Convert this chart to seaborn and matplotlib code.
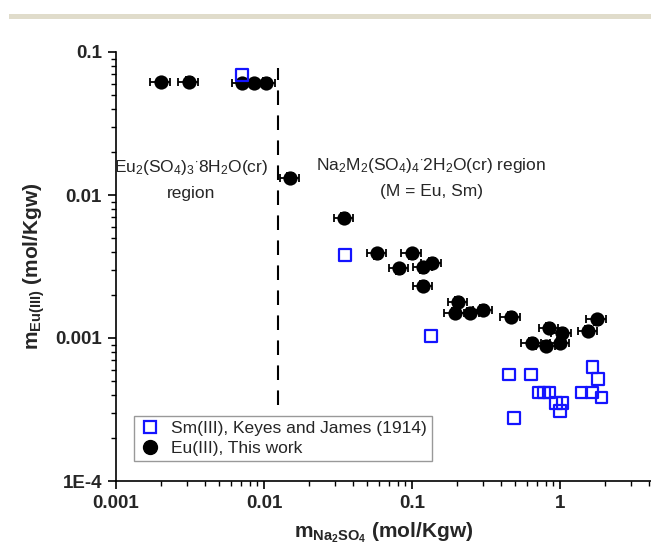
import numpy as np
import pandas as pd
import matplotlib
matplotlib.use("Agg")
import matplotlib.pyplot as plt
import seaborn as sns
from matplotlib.lines import Line2D
from matplotlib.patches import Rectangle

# ---- data ----
eu_x = [0.0020, 0.0031, 0.0071, 0.0085, 0.0103, 0.0151, 0.0347, 0.058, 0.0995,
        0.082, 0.119, 0.136, 0.119, 0.206, 0.195, 0.246, 0.303, 0.464,
        0.644, 0.804, 0.843, 1.00, 1.03, 1.55, 1.77]
eu_y = [0.0614, 0.0620, 0.0604, 0.0604, 0.0607, 0.0131, 0.0069, 0.0039, 0.0039,
        0.00307, 0.00312, 0.00336, 0.00231, 0.00179, 0.00149, 0.00150, 0.00157, 0.00141,
        0.000927, 0.00088, 0.00117, 0.000927, 0.00108, 0.00112, 0.00135]
sm_x = [0.0071, 0.0353, 0.134, 0.452, 0.634, 0.489, 0.72, 0.78, 0.84,
        0.94, 1.04, 1.00, 1.40, 1.64, 1.66, 1.81, 1.91]
sm_y = [0.069, 0.0038, 0.00103, 0.000557, 0.000557, 0.000277, 0.000417, 0.000417, 0.000417,
        0.00035, 0.00035, 0.00031, 0.000417, 0.000417, 0.000624, 0.000517, 0.000383]
eu_xerr_rel = 0.15
eu_yerr_rel = 0.08
boundary_x = 0.0125
boundary_y = [3.4e-4, 0.077]

legend_labels = ["Sm(III), Keyes and James (1914)", "Eu(III), This work"]
x_ticks = [0.001, 0.01, 0.1, 1]
x_ticklabels = ["0.001", "0.01", "0.1", "1"]
y_ticks = [1e-4, 1e-3, 1e-2, 1e-1]
y_ticklabels = ["1E-4", "0.001", "0.01", "0.1"]

sns.set_theme(style="ticks")
plt.rcParams['font.family'] = ['Liberation Sans', 'DejaVu Sans']
plt.rcParams['mathtext.fontset'] = 'custom'
plt.rcParams['mathtext.rm'] = 'Liberation Sans'
plt.rcParams['mathtext.it'] = 'Liberation Sans'
plt.rcParams['mathtext.bf'] = 'Liberation Sans:bold'

W, H = 651, 553
fig = plt.figure(figsize=(W / 100, H / 100), dpi=100)
left, right, bottom, top = 116, 651, 481, 52
ax = fig.add_axes([left / W, 1 - bottom / H, (right - left) / W, (bottom - top) / H])

# top beige band
fig.patches.append(Rectangle((9 / W, 1 - 18.5 / H), 1, 4.5 / H, transform=fig.transFigure,
                             facecolor='#e0dccb', edgecolor='none'))

eu = pd.DataFrame({"x": eu_x, "y": eu_y})
sm = pd.DataFrame({"x": sm_x, "y": sm_y})

ex = np.array(eu_x)
ey = np.array(eu_y)
ax.errorbar(ex, ey, xerr=ex * eu_xerr_rel, yerr=ey * eu_yerr_rel, fmt='none',
            ecolor='black', elinewidth=1.3, capsize=3, capthick=1.3, zorder=2)
sns.scatterplot(data=eu, x="x", y="y", ax=ax, marker='o', color='black',
                edgecolor='black', s=105, linewidth=0, zorder=3)
sns.scatterplot(data=sm, x="x", y="y", ax=ax, marker='s', facecolor='none',
                edgecolor='#1414ff', s=70, linewidth=1.6, zorder=4)

ax.plot([boundary_x, boundary_x], boundary_y, color='black', lw=1.5,
        dashes=(7, 5), zorder=1)

ax.set_xscale('log')
ax.set_yscale('log')
ax.set_xlim(0.001, 10 ** ((651 - 116) / 148 - 3))
ax.set_ylim(1e-4, 0.1)
ax.set_xticks(x_ticks)
ax.set_xticklabels(x_ticklabels, fontweight='bold', fontsize=13.5)
ax.set_yticks(y_ticks)
ax.set_yticklabels(y_ticklabels, fontweight='bold', fontsize=13.5)
ax.tick_params(which='major', length=6, width=1.2, direction='out', color='black', pad=4)
ax.tick_params(which='minor', length=3.5, width=1.0, direction='out', color='black')
for s in ['top', 'right']:
    ax.spines[s].set_visible(False)
for s in ['left', 'bottom']:
    ax.spines[s].set_color('black')
    ax.spines[s].set_linewidth(1.2)

ax.set_xlabel(r'$\mathbf{m_{Na_2SO_4}}$ (mol/Kgw)', fontsize=15, fontweight='bold', labelpad=6)
ax.set_ylabel(r'$\mathbf{m_{Eu(III)}}$ (mol/Kgw)', fontsize=15, fontweight='bold', labelpad=6)

ax.text(0.0032, 0.0155, r'Eu$_2$(SO$_4$)$_3$$^{\cdot}$8H$_2$O(cr)', fontsize=12.5,
        ha='center', va='center')
ax.text(0.0032, 0.0102, 'region', fontsize=12.5, ha='center', va='center')
ax.text(0.135, 0.0161, r'Na$_2$M$_2$(SO$_4$)$_4$$^{\cdot}$2H$_2$O(cr) region', fontsize=12.5,
        ha='center', va='center')
ax.text(0.135, 0.0105, '(M = Eu, Sm)', fontsize=12.5, ha='center', va='center')

handles = [Line2D([], [], marker='s', ls='none', markerfacecolor='none',
                  markeredgecolor='#1414ff', markersize=8.5, markeredgewidth=1.6),
           Line2D([], [], marker='o', ls='none', color='black', markersize=10)]
leg = ax.legend(handles, legend_labels, loc='lower left', bbox_to_anchor=(0.034, 0.047),
                borderaxespad=0, frameon=True, fancybox=False, fontsize=12.5,
                handletextpad=0.6, borderpad=0.3, labelspacing=0.25, handlelength=1.2)
leg.get_frame().set_edgecolor('#808080')
leg.get_frame().set_linewidth(1.0)

fig.savefig('out.png', dpi=100)
